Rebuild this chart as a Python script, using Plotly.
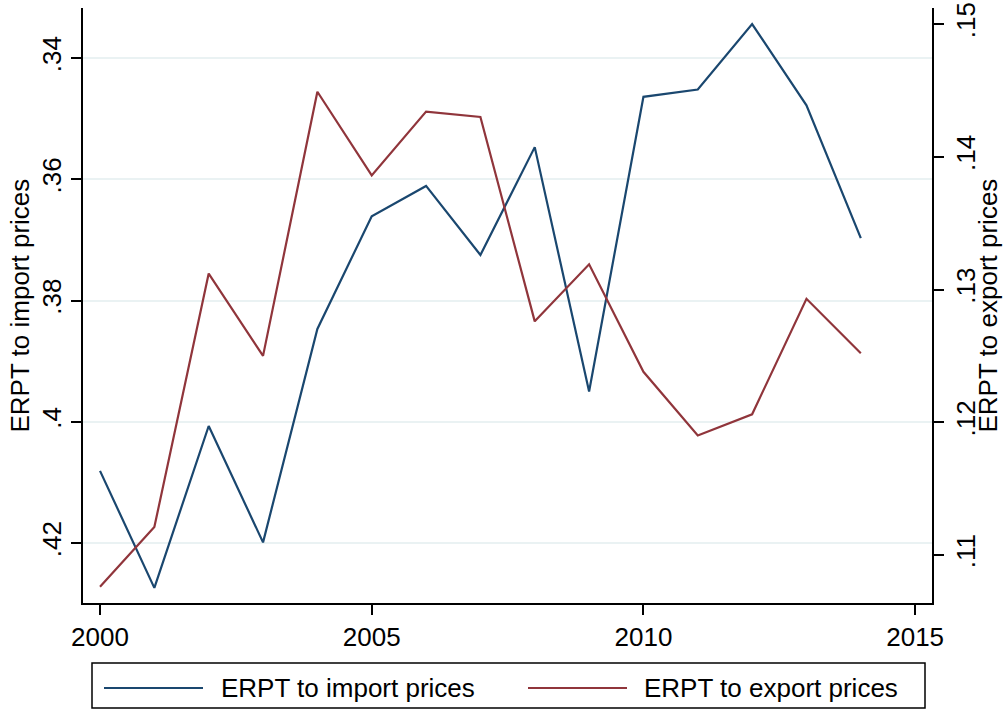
import plotly.graph_objects as go

# Exchange-rate pass-through estimates by year
years = list(range(2000, 2015))
erpt_import = [0.4081, 0.4274, 0.4007, 0.4199, 0.3847, 0.3661, 0.3611, 0.3725,
               0.3547, 0.3950, 0.3464, 0.3452, 0.3344, 0.3478, 0.3697]
erpt_export = [0.1076, 0.1121, 0.1312, 0.1250, 0.1449, 0.1386, 0.1434, 0.1430,
               0.1276, 0.1319, 0.1238, 0.1190, 0.1206, 0.1293, 0.1252]

x_ticks = [2000, 2005, 2010, 2015]
left_ticks = [0.34, 0.36, 0.38, 0.40, 0.42]
left_labels = [".34", ".36", ".38", ".4", ".42"]
right_ticks = [0.11, 0.12, 0.13, 0.14, 0.15]
right_labels = [".11", ".12", ".13", ".14", ".15"]

series_names = ["ERPT to import prices", "ERPT to export prices"]
NAVY = "#1a476f"
MAROON = "#90353b"
GRID = "#eaf2f3"
FONT = "Liberation Sans, Arial, sans-serif"

W, H = 1005, 710
ML, MR, MT, MB = 83, 73, 8, 107
PW, PH = W - ML - MR, H - MT - MB


def px_x(px):
    return (px - ML) / PW


def px_y(py):
    return (H - MB - py) / PH


fig = go.Figure()
fig.add_trace(go.Scatter(x=years, y=erpt_import, mode="lines", name=series_names[0],
                         line=dict(color=NAVY, width=2.2), yaxis="y", showlegend=False))
fig.add_trace(go.Scatter(x=years, y=erpt_export, mode="lines", name=series_names[1],
                         line=dict(color=MAROON, width=2.2), yaxis="y2", showlegend=False))

axis_font = dict(family=FONT, size=26, color="black")

fig.update_layout(
    width=W, height=H,
    margin=dict(l=ML, r=MR, t=MT, b=MB, pad=0),
    paper_bgcolor="white", plot_bgcolor="white",
    font=axis_font,
    xaxis=dict(range=[1999.687, 2015.31], tickvals=x_ticks, ticks="outside",
               ticklen=10, tickwidth=1.5, tickcolor="black", showline=True,
               linecolor="black", linewidth=1.5, showgrid=False, zeroline=False,
               tickfont=axis_font, automargin=False),
    yaxis=dict(range=[0.4299, 0.33175], tickvals=left_ticks, ticktext=left_labels,
               tickangle=-90, ticks="outside", ticklen=10, tickwidth=1.5,
               tickcolor="black", showline=True, linecolor="black", linewidth=1.5,
               showgrid=True, gridcolor=GRID, gridwidth=1.5, zeroline=False,
               tickfont=axis_font, automargin=False),
    yaxis2=dict(range=[0.10638, 0.15121], tickvals=right_ticks, ticktext=right_labels,
                overlaying="y", side="right", tickangle=-90, ticks="outside",
                ticklen=10, tickwidth=1.5, tickcolor="black", showline=True,
                linecolor="black", linewidth=1.5, showgrid=False, zeroline=False,
                tickfont=axis_font, automargin=False),
)

# Axis titles
fig.add_annotation(text=series_names[0], xref="paper", yref="paper",
                   x=px_x(19), y=0.5, textangle=-90, showarrow=False,
                   font=axis_font, xanchor="center", yanchor="middle")
fig.add_annotation(text=series_names[1], xref="paper", yref="paper",
                   x=px_x(987), y=0.5, textangle=-90, showarrow=False,
                   font=axis_font, xanchor="center", yanchor="middle")

# Legend box below the plot
fig.add_shape(type="rect", xref="paper", yref="paper",
              x0=px_x(92), x1=px_x(925), y0=px_y(708), y1=px_y(663),
              line=dict(color="black", width=1.5), fillcolor="white", layer="above")
legend_y = px_y(688)
for (x0, x1, tx), color, name in zip([(104, 203, 219), (528, 627, 642)],
                                      [NAVY, MAROON], series_names):
    fig.add_shape(type="line", xref="paper", yref="paper",
                  x0=px_x(x0), x1=px_x(x1), y0=legend_y, y1=legend_y,
                  line=dict(color=color, width=2.2), layer="above")
    fig.add_annotation(text=name, xref="paper", yref="paper", x=px_x(tx), y=legend_y,
                       xanchor="left", yanchor="middle", showarrow=False, font=axis_font)

fig.write_html("out.html")
